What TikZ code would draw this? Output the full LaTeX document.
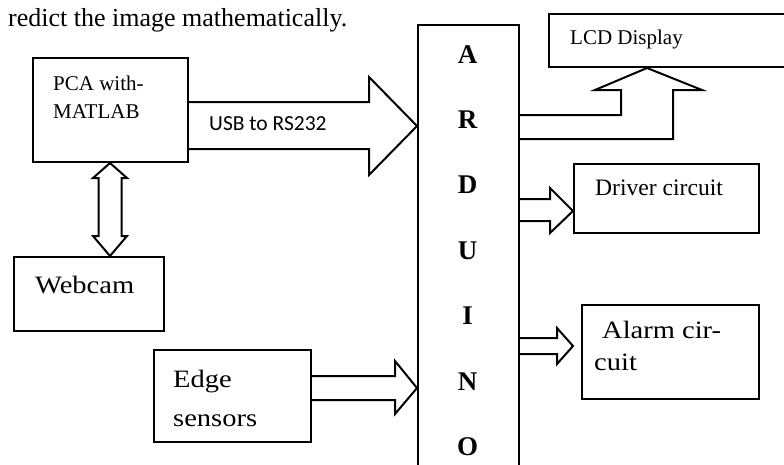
\documentclass[tikz,border=0pt]{standalone}
\usepackage{fontspec}
\setmainfont{Liberation Serif}
\newfontfamily\calfont{Carlito}
\newfontfamily\widefont[FakeStretch=1.14]{Liberation Serif}
\pgfdeclarelayer{background}
\pgfsetlayers{background,main}
\begin{document}
\begin{tikzpicture}[x=1pt,y=-1pt,
  box/.style={draw, line width=2pt, inner sep=0pt, anchor=north west},
  barrow/.style={draw, line width=2pt, fill=white, line join=miter, miter limit=10},
  txt/.style={inner sep=0pt, anchor=base west},
  ltr/.style={inner sep=0pt, anchor=base, font=\fontsize{27}{30}\selectfont\bfseries},
  smalltxt/.style={txt, font=\fontsize{21}{25}\selectfont},
  widetxt/.style={txt, font=\widefont\fontsize{25}{30}\selectfont}]
\useasboundingbox (0,0) rectangle (784,464);
\clip (0,0) rectangle (784,464);

% boxes
\node[box, minimum width=155pt, minimum height=104pt] (pca) at (32,57) {};
\node[box, minimum width=150pt, minimum height=74pt] (webcam) at (13,256) {};
\node[box, minimum width=157pt, minimum height=92pt] (edge) at (153,349) {};
\node[box, minimum width=101pt, minimum height=470pt] (ard) at (417,24) {};
\node[box, minimum width=260pt, minimum height=53pt] (lcd) at (548,13) {};
\node[box, minimum width=185pt, minimum height=69pt] (driver) at (573,163) {};
\node[box, minimum width=177pt, minimum height=94pt] (alarm) at (581,304) {};
\coordinate (alarmtip) at (573,346);

% block arrows
\begin{pgfonlayer}{background}
\draw[barrow] (pca.east |- 0,102) -- (369,102) -- (369,77) -- (ard.west |- 0,126)
  -- (369,175) -- (369,149) -- (pca.east |- 0,149);
\draw[barrow] (edge.east |- 0,376) -- (395,376) -- (395,361) -- (ard.west |- 0,388)
  -- (395,414) -- (395,400) -- (edge.east |- 0,400);
\draw[barrow] (ard.east |- 0,115) -- (621,115) -- (621,90) -- (595,90)
  -- (647,0 |- lcd.south) -- (702,90) -- (673,90) -- (673,139) -- (ard.east |- 0,139);
\draw[barrow] (ard.east |- 0,199) -- (550,199) -- (550,188) -- (driver.west |- 0,211)
  -- (550,233) -- (550,221) -- (ard.east |- 0,221);
\draw[barrow] (ard.east |- 0,338) -- (557,338) -- (557,328) -- (alarmtip)
  -- (557,364) -- (557,354) -- (ard.east |- 0,354);
\draw[barrow] (110,0 |- pca.south) -- (127,178) -- (121.5,178) -- (121.5,236)
  -- (127,236) -- (110,0 |- webcam.north) -- (93,236) -- (98.5,236)
  -- (98.5,178) -- (93,178) -- cycle;
\end{pgfonlayer}

% texts
\node[txt, font=\fontsize{26}{30}\selectfont] (top) at (8,26) {redict the image mathematically.};
\node[smalltxt] (pca1) at (53,90) {PCA with-};
\node[smalltxt] (pca2) at (53,118) {MATLAB};
\node[txt, font=\calfont\fontsize{21.5}{25}\selectfont] (usb) at (209,130) {USB to RS232};
\node[widetxt] (webcamt) at (35,293) {Webcam};
\node[widetxt] (edge1) at (173,387) {Edge};
\node[widetxt] (edge2) at (173,426) {sensors};
\node[smalltxt] (lcdt) at (570,44) {LCD Display};
\node[txt, font=\fontsize{23.6}{28}\selectfont] (drivert) at (595,195) {Driver circuit};
\node[widetxt] (alarm1) at (602,338) {Alarm cir-};
\node[widetxt] (alarm2) at (594,370) {cuit};

% ARDUINO letters
\node[ltr] (lA) at (467.5,63) {A};
\node[ltr] (lR) at (467.5,128) {R};
\node[ltr] (lD) at (467.5,193) {D};
\node[ltr] (lU) at (467.5,259) {U};
\node[ltr] (lI) at (467.5,324) {I};
\node[ltr] (lN) at (467.5,390) {N};
\node[ltr] (lO) at (467.5,455) {O};
\end{tikzpicture}
\end{document}
